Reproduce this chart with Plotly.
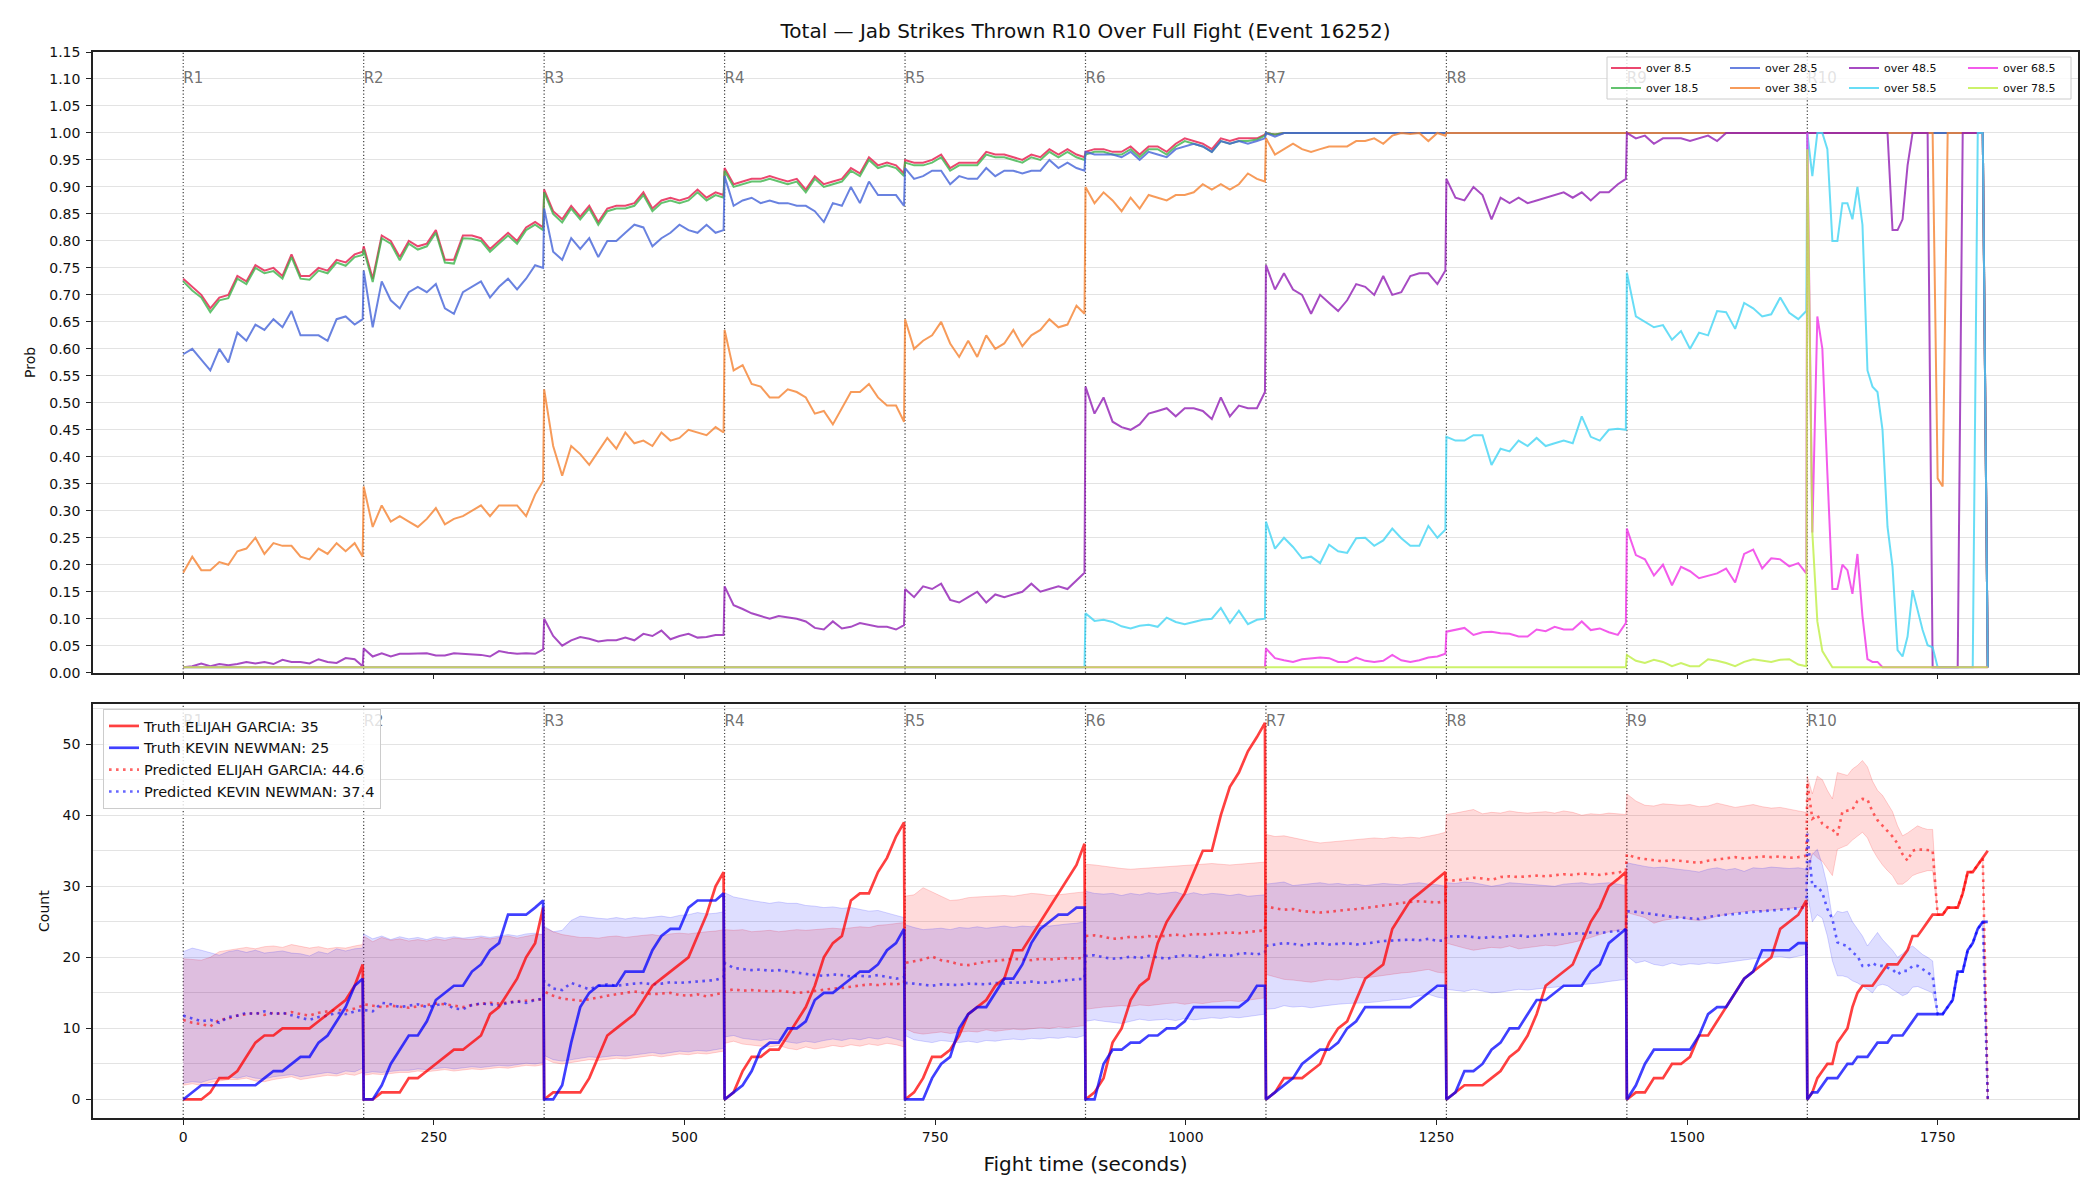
import plotly.graph_objects as go

# ---------------- sampling grid (seconds within each round) ----------------
ROUND_STARTS = [0, 180, 360, 540, 720, 900, 1080, 1260, 1440, 1620]
ROUND_LABELS = ["R1", "R2", "R3", "R4", "R5", "R6", "R7", "R8", "R9", "R10"]
OFFSETS = [0, 9, 18, 27, 36, 45, 54, 63, 72, 81, 90, 99, 108, 117, 126, 135, 144, 153, 162, 171, 179]
OFFSETS_R10 = [0, 5, 10, 15, 20, 25, 30, 35, 40, 45, 50, 55, 60, 65, 70, 75, 80, 85, 90, 95,
               100, 105, 110, 115, 120, 125, 130, 135, 140, 145, 150, 155, 160, 165, 170, 175, 180]

# ---------------- top panel: P(total > line) per round ----------------
OVER_8_5 = [
    [0.73, 0.715, 0.70, 0.675, 0.695, 0.70, 0.735, 0.725, 0.755, 0.745, 0.75, 0.735, 0.775, 0.735, 0.735, 0.75, 0.745, 0.765, 0.76, 0.775, 0.78],
    [0.79, 0.73, 0.81, 0.80, 0.77, 0.80, 0.79, 0.795, 0.82, 0.765, 0.765, 0.81, 0.81, 0.805, 0.785, 0.80, 0.815, 0.80, 0.825, 0.835, 0.825],
    [0.895, 0.855, 0.84, 0.865, 0.845, 0.865, 0.835, 0.86, 0.865, 0.865, 0.87, 0.89, 0.86, 0.875, 0.88, 0.875, 0.88, 0.895, 0.88, 0.89, 0.885],
    [0.935, 0.905, 0.91, 0.915, 0.915, 0.92, 0.915, 0.91, 0.915, 0.895, 0.92, 0.905, 0.91, 0.915, 0.935, 0.925, 0.955, 0.94, 0.945, 0.94, 0.925],
    [0.95, 0.945, 0.945, 0.95, 0.96, 0.935, 0.945, 0.945, 0.945, 0.965, 0.96, 0.96, 0.955, 0.95, 0.96, 0.955, 0.97, 0.96, 0.97, 0.96, 0.955],
    [0.965, 0.97, 0.97, 0.965, 0.965, 0.975, 0.96, 0.975, 0.975, 0.965, 0.98, 0.99, 0.985, 0.98, 0.97, 0.99, 0.985, 0.99, 0.99, 0.99, 0.997],
    [1.0, 0.997] + [1.0] * 19,
    [1.0] * 21,
    [1.0] * 21,
    [1.0] * 36 + [0.01],
]
OVER_18_5 = [
    [0.725, 0.708, 0.695, 0.668, 0.69, 0.694, 0.73, 0.72, 0.75, 0.74, 0.744, 0.73, 0.77, 0.73, 0.728, 0.745, 0.74, 0.76, 0.754, 0.77, 0.774],
    [0.784, 0.724, 0.805, 0.795, 0.764, 0.795, 0.784, 0.79, 0.815, 0.76, 0.758, 0.805, 0.804, 0.80, 0.78, 0.795, 0.81, 0.795, 0.82, 0.83, 0.82],
    [0.89, 0.85, 0.834, 0.86, 0.84, 0.86, 0.83, 0.855, 0.86, 0.86, 0.865, 0.885, 0.855, 0.87, 0.875, 0.87, 0.875, 0.89, 0.875, 0.885, 0.88],
    [0.93, 0.90, 0.905, 0.91, 0.91, 0.915, 0.91, 0.905, 0.91, 0.89, 0.915, 0.90, 0.905, 0.91, 0.93, 0.92, 0.95, 0.935, 0.94, 0.935, 0.92],
    [0.945, 0.94, 0.94, 0.945, 0.955, 0.93, 0.94, 0.94, 0.94, 0.96, 0.955, 0.955, 0.95, 0.945, 0.955, 0.95, 0.965, 0.955, 0.965, 0.955, 0.95],
    [0.96, 0.965, 0.965, 0.96, 0.96, 0.97, 0.955, 0.97, 0.97, 0.96, 0.975, 0.985, 0.98, 0.975, 0.965, 0.985, 0.98, 0.985, 0.985, 0.988, 0.995],
    [1.0, 0.997] + [1.0] * 19,
    [1.0] * 21,
    [1.0] * 21,
    [1.0] * 36 + [0.01],
]
OVER_28_5 = [
    [0.59, 0.60, 0.58, 0.56, 0.60, 0.575, 0.63, 0.615, 0.645, 0.635, 0.655, 0.64, 0.67, 0.625, 0.625, 0.625, 0.615, 0.655, 0.66, 0.645, 0.655],
    [0.745, 0.64, 0.725, 0.69, 0.675, 0.705, 0.715, 0.705, 0.72, 0.675, 0.665, 0.705, 0.715, 0.725, 0.695, 0.715, 0.73, 0.71, 0.73, 0.755, 0.75],
    [0.86, 0.78, 0.765, 0.805, 0.785, 0.805, 0.77, 0.80, 0.80, 0.815, 0.83, 0.825, 0.79, 0.805, 0.815, 0.83, 0.82, 0.815, 0.83, 0.815, 0.82],
    [0.92, 0.865, 0.875, 0.88, 0.87, 0.875, 0.87, 0.87, 0.865, 0.865, 0.855, 0.835, 0.87, 0.865, 0.90, 0.87, 0.91, 0.885, 0.885, 0.885, 0.865],
    [0.935, 0.915, 0.92, 0.93, 0.93, 0.905, 0.92, 0.915, 0.915, 0.935, 0.92, 0.93, 0.93, 0.925, 0.93, 0.93, 0.95, 0.935, 0.945, 0.935, 0.93],
    [0.965, 0.96, 0.96, 0.96, 0.955, 0.965, 0.95, 0.965, 0.96, 0.955, 0.97, 0.975, 0.98, 0.975, 0.965, 0.985, 0.98, 0.985, 0.98, 0.985, 0.99],
    [1.0, 0.993] + [1.0] * 19,
    [1.0] * 21,
    [1.0] * 21,
    [1.0] * 36 + [0.01],
]
OVER_38_5 = [
    [0.185, 0.215, 0.19, 0.19, 0.205, 0.20, 0.225, 0.23, 0.25, 0.22, 0.24, 0.235, 0.235, 0.215, 0.21, 0.23, 0.22, 0.24, 0.225, 0.24, 0.215],
    [0.345, 0.27, 0.31, 0.28, 0.29, 0.28, 0.27, 0.285, 0.305, 0.275, 0.285, 0.29, 0.30, 0.31, 0.29, 0.31, 0.31, 0.31, 0.29, 0.33, 0.355],
    [0.525, 0.42, 0.365, 0.42, 0.405, 0.385, 0.41, 0.435, 0.415, 0.445, 0.425, 0.43, 0.42, 0.445, 0.43, 0.435, 0.45, 0.445, 0.44, 0.455, 0.445],
    [0.635, 0.56, 0.57, 0.535, 0.53, 0.51, 0.51, 0.525, 0.52, 0.51, 0.48, 0.485, 0.46, 0.49, 0.52, 0.52, 0.535, 0.51, 0.495, 0.495, 0.465],
    [0.655, 0.60, 0.615, 0.625, 0.65, 0.61, 0.585, 0.615, 0.585, 0.625, 0.60, 0.61, 0.635, 0.605, 0.625, 0.635, 0.655, 0.64, 0.645, 0.68, 0.665],
    [0.90, 0.87, 0.89, 0.875, 0.855, 0.88, 0.86, 0.885, 0.88, 0.875, 0.885, 0.885, 0.89, 0.905, 0.895, 0.905, 0.895, 0.905, 0.925, 0.915, 0.91],
    [0.99, 0.96, 0.97, 0.98, 0.97, 0.965, 0.97, 0.975, 0.975, 0.975, 0.985, 0.985, 0.99, 0.98, 0.995, 1.0, 0.998, 1.0, 0.985, 1.0, 0.995],
    [1.0] * 21,
    [1.0] * 21,
    [1.0] * 26 + [0.36, 0.345] + [1.0] * 8 + [0.01],
]
OVER_48_5 = [
    [0.01, 0.012, 0.017, 0.012, 0.016, 0.014, 0.016, 0.02, 0.017, 0.02, 0.016, 0.024, 0.02, 0.02, 0.017, 0.025, 0.02, 0.018, 0.027, 0.025, 0.012],
    [0.045, 0.03, 0.036, 0.03, 0.035, 0.035, 0.035, 0.036, 0.032, 0.032, 0.036, 0.035, 0.034, 0.033, 0.03, 0.04, 0.037, 0.035, 0.036, 0.035, 0.043],
    [0.10, 0.068, 0.05, 0.06, 0.066, 0.063, 0.058, 0.06, 0.06, 0.065, 0.06, 0.072, 0.068, 0.078, 0.062, 0.068, 0.072, 0.065, 0.066, 0.07, 0.07],
    [0.16, 0.125, 0.118, 0.11, 0.105, 0.10, 0.105, 0.102, 0.10, 0.095, 0.083, 0.08, 0.095, 0.082, 0.085, 0.092, 0.088, 0.085, 0.085, 0.08, 0.088],
    [0.155, 0.14, 0.16, 0.155, 0.165, 0.135, 0.13, 0.14, 0.15, 0.13, 0.145, 0.14, 0.145, 0.15, 0.165, 0.15, 0.155, 0.16, 0.155, 0.17, 0.185],
    [0.53, 0.48, 0.51, 0.465, 0.455, 0.45, 0.46, 0.48, 0.485, 0.49, 0.475, 0.49, 0.49, 0.485, 0.47, 0.51, 0.475, 0.495, 0.49, 0.49, 0.52],
    [0.755, 0.71, 0.74, 0.71, 0.70, 0.665, 0.70, 0.685, 0.67, 0.69, 0.72, 0.715, 0.70, 0.735, 0.70, 0.705, 0.735, 0.74, 0.74, 0.72, 0.745],
    [0.915, 0.88, 0.875, 0.90, 0.885, 0.84, 0.88, 0.87, 0.88, 0.87, 0.875, 0.88, 0.885, 0.89, 0.88, 0.89, 0.875, 0.89, 0.89, 0.905, 0.915],
    [1.0, 0.99, 0.995, 0.98, 0.99, 0.99, 0.99, 0.985, 0.99, 0.995, 0.985] + [1.0] * 10,
    [1.0] * 17 + [0.82, 0.82, 0.84, 0.94] + [1.0] * 4 + [0.01] * 6 + [1.0] * 5 + [0.01],
]
OVER_58_5 = [
    [0.01] * 21,
    [0.01] * 21,
    [0.01] * 21,
    [0.01] * 21,
    [0.01] * 21,
    [0.11, 0.096, 0.098, 0.094, 0.086, 0.082, 0.087, 0.089, 0.085, 0.102, 0.094, 0.09, 0.094, 0.098, 0.10, 0.12, 0.092, 0.115, 0.09, 0.098, 0.10],
    [0.28, 0.23, 0.25, 0.233, 0.212, 0.215, 0.203, 0.237, 0.225, 0.222, 0.249, 0.25, 0.235, 0.245, 0.267, 0.249, 0.235, 0.235, 0.272, 0.25, 0.265],
    [0.437, 0.43, 0.43, 0.44, 0.44, 0.385, 0.415, 0.41, 0.43, 0.42, 0.435, 0.42, 0.425, 0.43, 0.425, 0.475, 0.437, 0.43, 0.45, 0.452, 0.45],
    [0.741, 0.66, 0.65, 0.64, 0.644, 0.617, 0.633, 0.60, 0.63, 0.625, 0.67, 0.668, 0.637, 0.685, 0.675, 0.66, 0.664, 0.695, 0.667, 0.655, 0.67],
    [1.0, 0.92, 1.0, 1.0, 0.97, 0.80, 0.80, 0.87, 0.87, 0.84, 0.90, 0.83, 0.56, 0.53, 0.52, 0.45, 0.27, 0.196, 0.042, 0.03,
     0.067, 0.153, 0.116, 0.079, 0.051, 0.047] + [0.01] * 8 + [1.0, 1.0, 0.01],
]
OVER_68_5 = [
    [0.01] * 21,
    [0.01] * 21,
    [0.01] * 21,
    [0.01] * 21,
    [0.01] * 21,
    [0.01] * 21,
    [0.045, 0.027, 0.023, 0.02, 0.025, 0.026, 0.028, 0.027, 0.02, 0.02, 0.028, 0.022, 0.02, 0.022, 0.033, 0.023, 0.02, 0.023, 0.028, 0.03, 0.035],
    [0.076, 0.08, 0.083, 0.07, 0.075, 0.076, 0.073, 0.072, 0.067, 0.067, 0.08, 0.077, 0.085, 0.08, 0.08, 0.095, 0.079, 0.082, 0.075, 0.07, 0.092],
    [0.267, 0.218, 0.21, 0.18, 0.20, 0.162, 0.196, 0.188, 0.175, 0.18, 0.184, 0.193, 0.167, 0.22, 0.228, 0.193, 0.212, 0.21, 0.197, 0.203, 0.184],
    [1.0, 0.26, 0.66, 0.60, 0.37, 0.155, 0.155, 0.20, 0.19, 0.146, 0.22, 0.105, 0.025, 0.02, 0.02] + [0.01] * 22,
]
OVER_78_5 = [
    [0.01] * 21,
    [0.01] * 21,
    [0.01] * 21,
    [0.01] * 21,
    [0.01] * 21,
    [0.01] * 21,
    [0.01] * 21,
    [0.01] * 21,
    [0.033, 0.022, 0.018, 0.024, 0.02, 0.012, 0.018, 0.012, 0.012, 0.025, 0.022, 0.018, 0.012, 0.02, 0.025, 0.022, 0.02, 0.024, 0.025, 0.015, 0.012],
    [0.97, 0.26, 0.095, 0.04, 0.025] + [0.01] * 32,
]

SERIES_NAMES = ["over 8.5", "over 18.5", "over 28.5", "over 38.5", "over 48.5", "over 58.5", "over 68.5", "over 78.5"]
SERIES_COLORS = ["rgba(230,25,75,0.8)", "rgba(60,180,75,0.8)", "rgba(67,99,216,0.8)", "rgba(245,130,49,0.8)",
                 "rgba(145,30,180,0.8)", "rgba(66,212,244,0.8)", "rgba(240,50,230,0.8)", "rgba(191,239,69,0.8)"]

# ---------------- bottom panel: counts ----------------
TRUTH_RED = [
    [0, 0, 0, 1, 3, 3, 4, 6, 8, 9, 9, 10, 10, 10, 10, 11, 12, 13, 14, 16, 19],
    [0, 0, 1, 1, 1, 3, 3, 4, 5, 6, 7, 7, 8, 9, 12, 13, 15, 17, 20, 22, 27],
    [0, 1, 1, 1, 1, 3, 6, 9, 10, 11, 12, 14, 16, 17, 18, 19, 20, 23, 26, 30, 32],
    [0, 1, 4, 6, 6, 7, 7, 9, 11, 13, 16, 20, 22, 23, 28, 29, 29, 32, 34, 37, 39],
    [0, 1, 3, 6, 6, 7, 9, 12, 13, 14, 16, 17, 21, 21, 23, 25, 27, 29, 31, 33, 36],
    [0, 1, 3, 8, 10, 14, 16, 17, 22, 25, 27, 29, 32, 35, 35, 40, 44, 46, 49, 51, 53],
    [0, 1, 3, 3, 3, 4, 5, 8, 10, 11, 14, 17, 18, 19, 24, 26, 28, 29, 30, 31, 32],
    [0, 1, 2, 2, 2, 3, 4, 6, 7, 9, 12, 16, 17, 18, 19, 22, 25, 27, 30, 31, 32],
    [0, 1, 1, 3, 3, 5, 5, 6, 9, 9, 11, 13, 15, 17, 18, 19, 20, 24, 25, 26, 28],
    [0, 1, 3, 4, 5, 5, 8, 9, 10, 13, 15, 16, 16, 16, 17, 18, 19, 19, 19, 20, 21, 23, 23, 24, 25, 26,
     26, 26, 27, 27, 27, 29, 32, 32, 33, 34, 35],
]
TRUTH_BLUE = [
    [0, 1, 2, 2, 2, 2, 2, 2, 2, 3, 4, 4, 5, 6, 6, 8, 9, 11, 13, 16, 17],
    [0, 0, 2, 5, 7, 9, 9, 11, 14, 15, 16, 16, 18, 19, 21, 22, 26, 26, 26, 27, 28],
    [0, 0, 2, 8, 13, 15, 16, 16, 16, 18, 18, 18, 21, 23, 24, 24, 27, 28, 28, 28, 29],
    [0, 1, 2, 4, 7, 8, 8, 10, 10, 11, 14, 15, 15, 16, 17, 18, 18, 19, 21, 22, 24],
    [0, 0, 0, 3, 5, 6, 10, 12, 13, 13, 15, 17, 17, 19, 22, 24, 25, 26, 26, 27, 27],
    [0, 0, 5, 7, 7, 8, 8, 9, 9, 10, 10, 11, 13, 13, 13, 13, 13, 13, 14, 16, 16],
    [0, 1, 2, 3, 5, 6, 7, 7, 8, 10, 11, 13, 13, 13, 13, 13, 13, 14, 15, 16, 16],
    [0, 1, 4, 4, 5, 7, 8, 10, 10, 12, 14, 14, 15, 16, 16, 16, 18, 19, 22, 23, 24],
    [0, 2, 5, 7, 7, 7, 7, 7, 9, 12, 13, 13, 15, 17, 18, 21, 21, 21, 21, 22, 22],
    [0, 1, 1, 2, 3, 3, 3, 4, 5, 5, 6, 6, 6, 7, 8, 8, 8, 9, 9, 9, 10, 11, 12, 12, 12, 12,
     12, 12, 13, 14, 18, 18, 21, 22, 24, 25, 25],
]
PRED_RED = [
    [11.2, 10.8, 10.6, 10.3, 11.2, 11.4, 11.8, 12.0, 12.2, 11.9, 12.2, 12.0, 12.3, 12.0, 11.8, 12.2, 12.4, 12.6, 12.5, 12.8, 13.2],
    [13.4, 13.2, 13.0, 13.2, 13.1, 12.9, 13.1, 13.3, 13.5, 13.4, 13.2, 13.0, 13.3, 13.5, 13.6, 13.5, 13.7, 13.8, 13.9, 14.0, 14.1],
    [15.2, 14.6, 14.2, 14.0, 13.9, 14.1, 14.4, 14.6, 14.8, 15.0, 15.2, 15.0, 14.8, 14.9, 15.0, 14.7, 14.6, 14.8, 14.5, 14.8, 15.0],
    [15.2, 15.5, 15.3, 15.4, 15.3, 15.2, 15.3, 15.2, 15.0, 15.1, 15.3, 15.4, 15.6, 15.7, 15.9, 16.0, 16.2, 16.1, 16.3, 16.2, 16.4],
    [19.2, 19.4, 19.7, 20.1, 19.6, 19.4, 19.0, 18.9, 19.2, 19.4, 19.5, 19.6, 19.8, 19.7, 19.6, 19.8, 19.7, 19.8, 19.9, 19.8, 20.0],
    [23.0, 23.1, 22.9, 22.6, 22.7, 22.9, 22.8, 23.0, 22.9, 23.1, 23.2, 23.0, 23.3, 23.2, 23.3, 23.4, 23.5, 23.4, 23.6, 23.7, 23.8],
    [27.2, 26.9, 26.7, 26.8, 26.5, 26.4, 26.3, 26.4, 26.6, 26.7, 26.8, 26.9, 27.1, 27.3, 27.5, 27.7, 27.8, 27.9, 27.8, 27.7, 27.9],
    [30.9, 30.8, 31.0, 31.2, 31.1, 30.9, 31.3, 31.4, 31.3, 31.4, 31.5, 31.4, 31.6, 31.7, 31.6, 31.8, 31.7, 31.6, 31.8, 31.9, 32.2],
    [34.5, 34.0, 33.8, 33.6, 33.5, 33.7, 33.6, 33.5, 33.3, 33.6, 33.8, 34.0, 34.1, 33.9, 34.0, 34.2, 34.1, 34.2, 34.0, 34.1, 34.3],
    [44.6, 39.5, 40.0, 38.8, 38.3, 38.0, 37.2, 40.5, 40.6, 40.8, 42.0, 42.3, 42.2, 40.5, 39.3, 38.5, 37.8, 37.0, 36.0, 34.5,
     33.6, 35.0, 35.2, 35.2, 35.1, 35.0, 26, 26, 27, 27, 27, 29, 32, 32, 33, 34, 0],
]
PRED_BLUE = [
    [11.8, 11.4, 11.0, 11.2, 10.8, 11.6, 11.8, 12.2, 12.0, 12.4, 12.0, 12.2, 11.8, 11.5, 11.2, 11.6, 11.8, 12.2, 12.0, 12.4, 12.6],
    [12.6, 12.4, 13.6, 13.4, 13.0, 13.2, 13.4, 13.0, 13.2, 13.5, 12.8, 12.7, 13.3, 13.5, 13.4, 13.2, 13.6, 13.8, 13.6, 14.0, 14.2],
    [16.7, 15.6, 15.4, 16.4, 16.0, 15.5, 16.0, 16.2, 16.0, 16.2, 16.3, 16.4, 16.2, 16.3, 16.5, 16.4, 16.5, 16.6, 16.7, 16.8, 17.2],
    [19.2, 18.5, 18.4, 18.2, 18.3, 18.1, 18.2, 18.0, 17.8, 17.7, 17.5, 17.4, 17.6, 17.5, 17.3, 17.4, 17.3, 17.5, 17.2, 17.0, 17.2],
    [16.4, 16.3, 16.1, 16.0, 16.2, 16.2, 16.1, 16.3, 16.3, 16.2, 16.4, 16.3, 16.5, 16.4, 16.6, 16.4, 16.5, 16.7, 16.8, 16.9, 17.0],
    [20.2, 20.3, 20.0, 19.8, 19.9, 20.1, 19.9, 20.2, 20.0, 19.8, 20.1, 20.3, 20.2, 20.0, 20.4, 20.3, 20.2, 20.5, 20.6, 20.4, 20.7],
    [21.6, 21.8, 22.0, 21.9, 21.7, 21.9, 22.0, 21.8, 21.9, 22.0, 21.8, 21.9, 22.1, 22.3, 22.4, 22.5, 22.5, 22.4, 22.6, 22.3, 22.4],
    [23.0, 22.9, 23.0, 22.8, 22.7, 22.9, 22.8, 23.0, 23.1, 22.9, 23.1, 23.2, 23.3, 23.2, 23.4, 23.3, 23.5, 23.4, 23.6, 23.7, 23.9],
    [26.5, 26.4, 26.2, 26.0, 25.8, 25.7, 25.6, 25.5, 25.4, 25.7, 25.9, 26.0, 26.1, 26.3, 26.4, 26.5, 26.6, 26.7, 26.8, 26.9, 27.1],
    [37.4, 30.0, 30.0, 29.1, 26.8, 25.4, 22.1, 21.8, 21.6, 20.7, 20.2, 18.8, 18.8, 19.2, 18.8, 18.8, 18.5, 18.3, 17.6, 18.1,
     18.1, 18.8, 18.8, 18.3, 17.8, 17.4, 12, 12, 13, 14, 18, 18, 21, 22, 24, 25, 0],
]
RED_HI = [
    [19.8, 19.7, 19.6, 20.0, 20.8, 21.0, 21.2, 21.4, 21.2, 21.5, 21.6, 21.4, 21.8, 21.6, 21.3, 21.5, 21.2, 21.4, 21.3, 21.6, 21.8],
    [23.0, 22.2, 22.8, 22.4, 22.6, 22.3, 22.5, 22.3, 22.6, 22.4, 22.7, 22.6, 22.5, 22.8, 22.6, 22.8, 23.0, 22.7, 23.0, 23.2, 23.2],
    [24.2, 23.6, 23.2, 23.0, 22.8, 22.8, 22.7, 22.9, 23.0, 22.8, 23.0, 23.1, 23.2, 23.0, 23.3, 23.4, 23.3, 23.5, 23.6, 23.7, 23.9],
    [23.9, 23.8, 23.9, 23.6, 23.7, 23.8, 23.6, 23.7, 23.9, 23.8, 23.9, 24.0, 24.1, 24.0, 24.2, 24.3, 24.2, 24.5, 24.6, 24.8, 24.9],
    [28.6, 28.8, 29.8, 29.2, 28.5, 28.0, 28.1, 28.4, 28.5, 28.6, 28.6, 28.7, 28.6, 28.8, 29.0, 28.9, 28.7, 28.8, 29.0, 29.1, 29.2],
    [33.1, 33.0, 32.8, 32.6, 32.5, 32.4, 32.5, 32.6, 32.7, 32.8, 32.9, 33.0, 33.1, 33.2, 33.2, 33.1, 33.0, 33.1, 33.2, 33.3, 33.4],
    [37.3, 37.0, 37.1, 36.8, 36.5, 36.3, 36.1, 36.2, 36.4, 36.5, 36.6, 36.7, 36.8, 36.7, 36.9, 36.8, 36.9, 36.8, 37.0, 37.3, 37.6],
    [40.1, 40.3, 40.5, 40.8, 40.2, 40.4, 40.3, 40.6, 40.4, 40.3, 40.4, 40.5, 40.3, 40.6, 40.4, 40.0, 40.2, 40.1, 40.3, 40.2, 40.1],
    [43.0, 42.0, 41.4, 41.3, 41.6, 41.5, 41.4, 41.5, 41.2, 41.3, 41.7, 41.4, 41.1, 41.3, 41.5, 41.2, 41.0, 41.1, 40.9, 40.6, 40.4],
    [45.5, 43.0, 45.5, 45.0, 43.5, 42.3, 46.0, 45.8, 45.6, 46.5, 47.0, 47.7, 46.8, 44.8, 43.5, 42.8, 41.6, 40.5, 38.5, 37.1,
     37.5, 38.0, 38.5, 38.2, 38.0, 38.0, 26, 26, 27, 27, 27, 29, 32, 32, 33, 34, 0],
]
RED_LO = [
    [2.0, 2.2, 2.0, 2.4, 2.6, 2.8, 2.8, 3.0, 2.6, 2.5, 2.8, 3.0, 3.2, 2.8, 3.0, 3.3, 3.4, 3.3, 3.6, 3.4, 3.8],
    [3.4, 3.6, 3.5, 3.7, 3.8, 3.8, 4.0, 3.9, 4.1, 4.2, 4.0, 4.2, 4.3, 4.2, 4.4, 4.5, 4.4, 4.6, 4.8, 4.7, 4.9],
    [5.8, 5.2, 5.0, 5.2, 5.4, 5.6, 5.5, 5.7, 5.8, 5.7, 5.9, 6.0, 6.2, 6.0, 6.2, 6.4, 6.3, 6.5, 6.4, 6.6, 6.8],
    [7.9, 8.2, 7.8, 7.6, 7.5, 7.4, 7.6, 7.2, 7.0, 7.4, 7.1, 7.3, 7.6, 7.4, 7.7, 7.5, 7.8, 7.6, 7.9, 7.7, 7.4],
    [10.0, 9.4, 9.2, 9.3, 9.5, 9.3, 9.4, 9.6, 9.5, 9.8, 9.6, 9.7, 9.9, 9.8, 10.0, 10.1, 10.0, 10.2, 10.1, 10.3, 10.4],
    [12.7, 12.9, 13.0, 13.1, 13.2, 13.1, 13.3, 13.2, 13.4, 13.5, 13.6, 13.4, 13.6, 13.5, 13.7, 13.8, 13.9, 13.8, 14.0, 14.2, 14.3],
    [17.6, 17.2, 16.9, 16.8, 16.6, 16.5, 16.7, 16.9, 16.8, 17.0, 17.2, 17.1, 17.3, 17.4, 17.6, 17.8, 17.9, 18.1, 18.3, 17.9, 17.8],
    [22.0, 21.6, 21.3, 21.0, 21.2, 21.4, 21.3, 21.6, 21.2, 21.4, 21.5, 21.7, 21.6, 21.8, 22.1, 22.4, 22.8, 23.2, 23.6, 23.8, 24.0],
    [26.3, 25.9, 25.6, 24.8, 25.2, 25.4, 25.6, 25.3, 25.2, 25.4, 25.8, 26.0, 26.3, 26.4, 26.6, 26.5, 26.7, 26.8, 26.9, 27.0, 27.2],
    [31.0, 34.7, 34.0, 33.5, 32.5, 31.5, 35.2, 35.5, 35.8, 36.5, 37.0, 37.6, 36.8, 35.2, 34.0, 33.0, 32.2, 31.5, 30.3, 30.3,
     30.8, 31.5, 31.8, 32.0, 32.2, 32.2, 26, 26, 27, 27, 27, 29, 32, 32, 33, 34, 0],
]
BLUE_HI = [
    [20.8, 21.3, 21.0, 20.6, 20.3, 20.8, 21.0, 20.7, 21.0, 20.6, 20.8, 20.9, 20.6, 20.5, 20.2, 20.8, 20.5, 21.2, 20.9, 21.2, 21.3],
    [23.3, 22.6, 23.0, 22.5, 22.9, 22.6, 22.8, 22.5, 22.9, 22.7, 22.9, 22.7, 22.8, 23.0, 22.8, 23.0, 23.2, 23.0, 23.3, 23.4, 23.2],
    [24.4, 23.6, 23.8, 25.2, 25.8, 25.6, 25.5, 25.4, 25.6, 25.4, 25.6, 25.5, 25.7, 25.8, 25.6, 25.9, 26.0, 26.3, 26.1, 26.2, 26.4],
    [29.1, 28.5, 28.2, 28.0, 27.8, 27.6, 27.8, 27.6, 27.6, 27.3, 27.2, 27.0, 27.1, 26.9, 27.0, 26.7, 26.5, 26.6, 26.2, 25.9, 25.6],
    [24.6, 24.2, 23.9, 24.0, 24.1, 23.9, 24.2, 24.1, 24.3, 24.1, 24.3, 24.4, 24.2, 24.4, 24.3, 24.5, 24.4, 24.6, 24.7, 24.8, 25.0],
    [29.3, 29.0, 28.9, 29.0, 28.7, 29.0, 28.8, 29.1, 28.9, 29.0, 29.2, 28.8, 29.1, 28.8, 29.0, 28.9, 28.7, 28.9, 28.6, 28.7, 28.8],
    [30.3, 30.4, 30.6, 30.1, 30.2, 30.3, 30.5, 30.3, 30.4, 30.2, 30.3, 30.1, 30.2, 30.4, 30.3, 30.2, 30.4, 30.5, 30.3, 30.2, 30.0],
    [30.5, 30.4, 30.6, 30.5, 30.3, 30.0, 30.2, 30.5, 30.4, 30.3, 30.2, 30.1, 30.0, 30.3, 30.4, 30.5, 30.3, 30.4, 30.5, 30.3, 30.1],
    [33.3, 33.0, 32.8, 32.6, 32.7, 32.5, 32.4, 32.2, 32.0, 32.4, 32.6, 32.3, 32.5, 32.1, 32.6, 32.5, 32.7, 32.6, 32.5, 32.6, 32.4],
    [33.0, 34.5, 35.2, 33.0, 30.0, 25.5, 26.5, 26.3, 26.5, 25.0, 24.0, 23.0, 21.6, 22.5, 23.5, 22.5, 21.8, 21.0, 20.0, 20.5,
     21.2, 21.6, 21.0, 20.4, 20.0, 19.5, 12, 12, 13, 14, 18, 18, 21, 22, 24, 25, 0],
]
BLUE_LO = [
    [2.3, 2.5, 2.4, 2.8, 3.0, 3.2, 3.0, 3.3, 3.0, 2.9, 3.2, 3.4, 3.5, 3.2, 3.4, 3.6, 3.8, 3.6, 4.0, 3.9, 4.4],
    [3.7, 3.9, 3.8, 4.0, 4.1, 4.1, 4.3, 4.2, 4.4, 4.5, 4.3, 4.5, 4.6, 4.5, 4.7, 4.8, 4.7, 4.9, 5.1, 5.0, 5.2],
    [6.2, 5.6, 5.4, 5.6, 5.8, 6.0, 5.9, 6.1, 6.2, 6.1, 6.3, 6.4, 6.6, 6.4, 6.6, 6.8, 6.7, 6.9, 6.8, 7.0, 7.2],
    [8.8, 9.0, 8.6, 8.4, 8.3, 8.5, 8.4, 8.1, 7.9, 8.2, 8.0, 8.3, 8.5, 8.3, 8.6, 8.4, 8.7, 8.5, 8.8, 8.5, 8.2],
    [9.0, 8.4, 8.2, 8.0, 8.3, 8.1, 8.0, 8.2, 8.0, 8.3, 8.2, 8.4, 8.5, 8.4, 8.6, 8.5, 8.7, 8.6, 8.8, 8.7, 9.0],
    [11.0, 11.2, 11.0, 10.8, 10.7, 11.0, 11.3, 11.1, 11.2, 11.3, 11.1, 11.4, 11.2, 11.3, 11.5, 11.4, 11.6, 11.5, 11.7, 11.8, 12.0],
    [12.7, 12.8, 13.2, 13.0, 13.1, 12.9, 13.1, 13.3, 13.4, 13.5, 13.5, 13.6, 13.7, 13.9, 14.0, 14.1, 14.3, 14.6, 14.8, 14.4, 14.2],
    [15.5, 15.4, 15.2, 15.5, 15.3, 15.0, 15.1, 15.3, 15.5, 15.4, 15.6, 15.7, 15.8, 15.9, 16.0, 16.1, 16.3, 16.4, 16.6, 16.8, 16.9],
    [20.2, 19.2, 19.5, 19.0, 18.8, 19.2, 18.9, 19.1, 19.0, 19.2, 19.1, 19.3, 19.5, 19.7, 19.8, 19.9, 20.0, 20.1, 19.9, 20.2, 20.4],
    [29.0, 25.0, 26.0, 25.5, 23.0, 19.5, 17.4, 17.4, 17.2, 16.7, 16.4, 16.0, 15.5, 15.0, 16.0, 16.2, 16.0, 15.5, 15.0, 14.6,
     14.9, 15.8, 15.9, 15.6, 15.3, 15.0, 12, 12, 13, 14, 18, 18, 21, 22, 24, 25, 0],
]

LEGEND_TEXT = ["Truth ELIJAH GARCIA: 35", "Truth KEVIN NEWMAN: 25",
               "Predicted ELIJAH GARCIA: 44.6", "Predicted KEVIN NEWMAN: 37.4"]
TITLE = "Total \u2014 Jab Strikes Thrown R10 Over Full Fight (Event 16252)"
X_TICKS = [0, 250, 500, 750, 1000, 1250, 1500, 1750]


def flat(rounds):
    return [v for r in rounds for v in r]


TIMES = [s + o for s in ROUND_STARTS[:-1] for o in OFFSETS] + [ROUND_STARTS[-1] + o for o in OFFSETS_R10]

FONT = "DejaVu Sans"
fig = go.Figure()

# top panel lines
top_series = [OVER_8_5, OVER_18_5, OVER_28_5, OVER_38_5, OVER_48_5, OVER_58_5, OVER_68_5, OVER_78_5]
for i, (name, col, data) in enumerate(zip(SERIES_NAMES, SERIES_COLORS, top_series)):
    y = flat(data)
    assert len(y) == len(TIMES), (name, len(y))
    fig.add_trace(go.Scatter(
        x=TIMES, y=y, mode="lines", name=name,
        line=dict(color=col, width=2),
        legend="legend" if i % 2 == 0 else "legend2", legendrank=i + 1,
        xaxis="x", yaxis="y", hoverinfo="skip",
    ))

# round labels (top)
fig.add_trace(go.Scatter(
    x=ROUND_STARTS, y=[1.10] * len(ROUND_STARTS), mode="text", text=ROUND_LABELS,
    textposition="middle right", textfont=dict(family=FONT, size=15, color="rgba(95,95,95,0.9)"),
    showlegend=False, xaxis="x", yaxis="y", hoverinfo="skip",
))

# bottom panel bands
band_specs = [
    (RED_LO, RED_HI, "rgba(255,0,0,0.14)", "rgba(255,0,0,0.17)"),
    (BLUE_LO, BLUE_HI, "rgba(0,0,255,0.13)", "rgba(0,0,255,0.16)"),
]
for lo, hi, fillc, edge in band_specs:
    fig.add_trace(go.Scatter(x=TIMES, y=flat(lo), mode="lines", line=dict(color=edge, width=1),
                             showlegend=False, xaxis="x2", yaxis="y2", hoverinfo="skip"))
    fig.add_trace(go.Scatter(x=TIMES, y=flat(hi), mode="lines", line=dict(color=edge, width=1),
                             fill="tonexty", fillcolor=fillc,
                             showlegend=False, xaxis="x2", yaxis="y2", hoverinfo="skip"))

# predicted (dotted)
fig.add_trace(go.Scatter(x=TIMES, y=flat(PRED_RED), mode="lines", name=LEGEND_TEXT[2], legendrank=3,
                         line=dict(color="rgba(255,0,0,0.6)", width=2.6, dash="2.6px,4.4px"),
                         legend="legend3", xaxis="x2", yaxis="y2", hoverinfo="skip"))
fig.add_trace(go.Scatter(x=TIMES, y=flat(PRED_BLUE), mode="lines", name=LEGEND_TEXT[3], legendrank=4,
                         line=dict(color="rgba(0,0,255,0.6)", width=2.6, dash="2.6px,4.4px"),
                         legend="legend3", xaxis="x2", yaxis="y2", hoverinfo="skip"))
# truth
fig.add_trace(go.Scatter(x=TIMES, y=flat(TRUTH_RED), mode="lines", name=LEGEND_TEXT[0], legendrank=1,
                         line=dict(color="rgba(255,0,0,0.75)", width=2.7),
                         legend="legend3", xaxis="x2", yaxis="y2", hoverinfo="skip"))
fig.add_trace(go.Scatter(x=TIMES, y=flat(TRUTH_BLUE), mode="lines", name=LEGEND_TEXT[1], legendrank=2,
                         line=dict(color="rgba(0,0,255,0.75)", width=2.7),
                         legend="legend3", xaxis="x2", yaxis="y2", hoverinfo="skip"))

# round labels (bottom)
fig.add_trace(go.Scatter(
    x=ROUND_STARTS, y=[53.1] * len(ROUND_STARTS), mode="text", text=ROUND_LABELS,
    textposition="middle right", textfont=dict(family=FONT, size=15, color="rgba(95,95,95,0.9)"),
    showlegend=False, xaxis="x2", yaxis="y2", hoverinfo="skip",
))

# round boundary lines
shapes = []
for s in ROUND_STARTS:
    for xr, yr in (("x", "y domain"), ("x2", "y2 domain")):
        shapes.append(dict(type="line", xref=xr, yref=yr, x0=s, x1=s, y0=0, y1=1, layer="below",
                           line=dict(color="rgba(55,55,55,0.95)", width=1.2, dash="1.2px,2.2px")))
# top legend frame
shapes.append(dict(type="rect", xref="paper", yref="paper",
                   x0=1607 / 2100, x1=2071 / 2100, y0=1 - 99 / 1200, y1=1 - 57 / 1200,
                   fillcolor="rgba(255,255,255,0.8)", line=dict(color="#cccccc", width=1), layer="above"))

XDOM = [93 / 2100, 2078 / 2100]
axis_common = dict(showline=True, linecolor="#222", linewidth=1.5, mirror=True, zeroline=False,
                   ticks="outside", ticklen=5, tickwidth=1, tickcolor="#222",
                   tickfont=dict(family=FONT, size=14, color="#111"))
grid = dict(showgrid=True, gridcolor="#e3e3e3", gridwidth=1)
top_legend = dict(orientation="h", x=1606 / 2100, xanchor="left", yanchor="middle",
                  entrywidth=74, entrywidthmode="pixels", font=dict(family=FONT, size=11, color="#111"),
                  bgcolor="rgba(0,0,0,0)", borderwidth=0, itemwidth=30, traceorder="normal")

fig.update_layout(
    width=2100, height=1200, margin=dict(l=0, r=0, t=0, b=0, autoexpand=False),
    paper_bgcolor="white", plot_bgcolor="white",
    font=dict(family=FONT, color="#111"),
    title=dict(text=TITLE, x=1085.5 / 2100, xanchor="center", xref="paper",
               y=1 - 31 / 1200, yanchor="middle", yref="paper",
               font=dict(family=FONT, size=20, color="#111")),
    xaxis=dict(domain=XDOM, range=[-90, 1890], anchor="y", tickvals=X_TICKS, showticklabels=False,
               showgrid=False, **axis_common),
    yaxis=dict(domain=[1 - 672.7 / 1200, 1 - 52 / 1200], range=[0, 1.15], anchor="x",
               tick0=0, dtick=0.05, tickformat=".2f", ticklabelstandoff=3,
               title=dict(text="Prob", font=dict(family=FONT, size=14), standoff=10),
               **grid, **axis_common),
    xaxis2=dict(domain=XDOM, range=[-90, 1890], anchor="y2", tickvals=X_TICKS, showgrid=False,
                title=dict(text="Fight time (seconds)", font=dict(family=FONT, size=20), standoff=13),
                **axis_common),
    yaxis2=dict(domain=[1 - 1118.3 / 1200, 1 - 704 / 1200], range=[-2.65, 55.65], anchor="x2",
                tick0=0, dtick=10, ticklabelstandoff=3,
                minor=dict(dtick=5, tick0=0, showgrid=True, gridcolor="#e3e3e3", ticks=""),
                title=dict(text="Count", font=dict(family=FONT, size=14), standoff=10),
                **grid, **axis_common),
    shapes=shapes,
    legend=dict(y=1 - 68 / 1200, **top_legend),
    legend2=dict(y=1 - 88 / 1200, **top_legend),
    legend3=dict(orientation="v", x=103 / 2100, xanchor="left", y=1 - 709 / 1200, yanchor="top",
                 font=dict(family=FONT, size=14.5, color="#111"), bgcolor="rgba(255,255,255,0.8)",
                 bordercolor="#cccccc", borderwidth=1, itemwidth=30, traceorder="normal"),
    showlegend=True,
)

fig.write_html("out.html")
